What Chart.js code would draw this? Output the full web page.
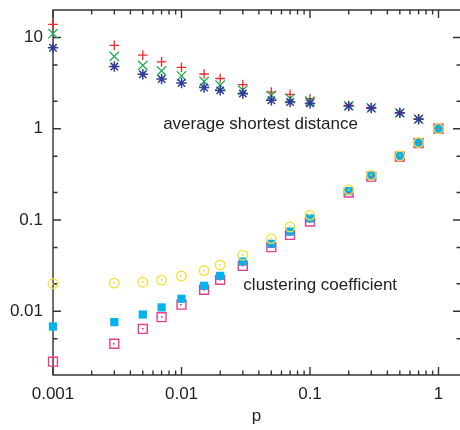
<!DOCTYPE html>
<html>
<head>
<meta charset="utf-8">
<script src="https://cdn.jsdelivr.net/npm/chart.js@4/dist/chart.umd.min.js"></script>
<style>
  html, body { margin: 0; padding: 0; background: #fff; }
  #wrap { width: 460px; height: 430px; position: relative; }
</style>
</head>
<body>
<div id="wrap"><canvas id="chart"></canvas></div>
<script>
// ---- data ----
const pValues = [0.001, 0.003, 0.005, 0.007, 0.01, 0.015, 0.02, 0.03, 0.05, 0.07, 0.1, 0.2, 0.3, 0.5, 0.7, 1];

// average shortest distance (upper group)
const distRed   = [13.9, 8.2, 6.4, 5.4, 4.7, 3.98, 3.55, 3.05, 2.52, 2.38, 2.13, 1.80, 1.71, 1.50, 1.28, 1];
const distGreen = [11.0, 6.2, 4.95, 4.3, 3.8, 3.3, 3.0, 2.64, 2.32, 2.14, 2.0, 1.78, 1.69, 1.49, 1.27, 1];
const distBlue  = [7.7, 4.8, 3.95, 3.5, 3.17, 2.83, 2.63, 2.43, 2.05, 1.96, 1.9, 1.77, 1.68, 1.49, 1.27, 1];

// clustering coefficient (lower group)
const clusYellow  = [0.0201, 0.0203, 0.0208, 0.0219, 0.0243, 0.0279, 0.0322, 0.0411, 0.0625, 0.0838, 0.113, 0.215, 0.31, 0.505, 0.705, 1];
const clusCyan    = [0.0068, 0.0076, 0.0092, 0.011, 0.0137, 0.019, 0.0244, 0.035, 0.0547, 0.0745, 0.104, 0.207, 0.303, 0.50, 0.70, 1];
const clusMagenta = [0.0028, 0.0044, 0.0064, 0.0086, 0.0118, 0.0172, 0.0221, 0.0314, 0.0503, 0.0686, 0.096, 0.20, 0.298, 0.495, 0.695, 1];

// ticks
const xMajor = [0.001, 0.01, 0.1, 1];
const xLabels = ['0.001', '0.01', '0.1', '1'];
const yMajor = [0.01, 0.1, 1, 10];
const yLabels = ['0.01', '0.1', '1', '10'];
const xMinorSteps = [2, 3, 4, 5, 6, 7, 8, 9];
const yMinorSteps = [2, 5];

// text labels placed in data coordinates [x, y(baseline), text]
const notes = [
    [0.0072, 1.0, 'average shortest distance'],
    [0.0303, 0.0172, 'clustering coefficient']
];

const FONT = '"Liberation Sans", Arial, Helvetica, sans-serif';
const INK = '#222';

function pts(ys) {
    return pValues.map((x, i) => ({ x, y: ys[i] }));
}

// scale padding for edge labels is not wanted here
function noPad(s) {
    s.paddingLeft = 0; s.paddingRight = 0; s.paddingTop = 0; s.paddingBottom = 0;
}

// ---- 枠と内向きの目盛り ----
const framePlugin = {
    id: 'frame',
    beforeDatasetsDraw(chart) {
        const { ctx, chartArea: a, scales: { x, y } } = chart;
        ctx.save();
        ctx.strokeStyle = '#333';
        ctx.lineWidth = 1.4;
        // right edge of the frame falls just outside the picture
        ctx.beginPath();
        ctx.moveTo(a.right + 1, a.top);
        ctx.lineTo(a.left, a.top);
        ctx.lineTo(a.left, a.bottom);
        ctx.lineTo(a.right + 1, a.bottom);
        ctx.stroke();

        const tick = (px, len, horiz) => {
            ctx.beginPath();
            if (horiz) {
                ctx.moveTo(px, a.bottom); ctx.lineTo(px, a.bottom - len);
                ctx.moveTo(px, a.top); ctx.lineTo(px, a.top + len);
            } else {
                ctx.moveTo(a.left, px); ctx.lineTo(a.left + len, px);
                ctx.moveTo(a.right + 1, px); ctx.lineTo(a.right + 1 - len, px);
            }
            ctx.stroke();
        };

        xMajor.forEach(v => {
            tick(x.getPixelForValue(v), 8, true);
            xMinorSteps.forEach(k => {
                const m = v * k;
                if (m < x.max) tick(x.getPixelForValue(m), 4.5, true);
            });
        });
        [0.001].concat(yMajor).forEach(v => {
            if (v > y.min) tick(y.getPixelForValue(v), 8, false);
            yMinorSteps.forEach(k => {
                const m = v * k;
                if (m > y.min && m < y.max) tick(y.getPixelForValue(m), 4.5, false);
            });
        });
        ctx.restore();
    },
    afterDatasetsDraw(chart) {
        const { ctx, scales: { x, y } } = chart;
        ctx.save();
        // small dot in the centre of some markers
        chart.data.datasets.forEach((ds, i) => {
            if (!ds.centerDot) return;
            ctx.fillStyle = ds.centerDot;
            chart.getDatasetMeta(i).data.forEach(el => {
                ctx.fillRect(Math.round(el.x) - 1, Math.round(el.y) - 1, 1.6, 1.6);
            });
        });
        // annotations
        ctx.fillStyle = INK;
        ctx.font = '17px ' + FONT;
        ctx.textBaseline = 'alphabetic';
        ctx.textAlign = 'left';
        notes.forEach(([nx, ny, t]) => {
            ctx.fillText(t, x.getPixelForValue(nx), y.getPixelForValue(ny));
        });
        ctx.restore();
    }
};

const datasets = [
    { data: pts(clusYellow), pointStyle: 'circle', pointRadius: 4.8, borderColor: '#f2e236', backgroundColor: 'rgba(0,0,0,0)', borderWidth: 1.3, centerDot: '#e8d830' },
    { data: pts(clusCyan), pointStyle: 'rect', pointRadius: 5.8, borderColor: '#04b2ec', backgroundColor: '#04b2ec', borderWidth: 0 },
    { data: pts(clusMagenta), pointStyle: 'rect', pointRadius: 6.3, borderColor: '#e63e8f', backgroundColor: 'rgba(0,0,0,0)', borderWidth: 1.4, centerDot: '#e63e8f' },
    { data: pts(distBlue), pointStyle: 'star', pointRadius: 5.2, borderColor: '#2f3c98', backgroundColor: '#2f3c98', borderWidth: 1.5 },
    { data: pts(distGreen), pointStyle: 'crossRot', pointRadius: 6.6, borderColor: '#1fae55', backgroundColor: '#1fae55', borderWidth: 1.3 },
    { data: pts(distRed), pointStyle: 'cross', pointRadius: 4.8, borderColor: '#ee2a2a', backgroundColor: '#ee2a2a', borderWidth: 1.3 }
].map(d => ({ ...d, showLine: false, clip: false, pointHoverRadius: d.pointRadius }));

new Chart(document.getElementById('chart'), {
    type: 'scatter',
    data: { datasets },
    options: {
        responsive: true,
        maintainAspectRatio: false,
        animation: false,
        layout: { autoPadding: false, padding: { top: 10, right: 0, bottom: 0, left: 0 } },
        plugins: { legend: { display: false }, tooltip: { enabled: false } },
        scales: {
            x: {
                type: 'logarithmic',
                min: 0.001,
                max: 1.47,
                grid: { display: false, drawTicks: false },
                border: { display: false },
                afterBuildTicks: s => { s.ticks = xMajor.map(v => ({ value: v })); },
                afterFit: s => { s.height = 55; noPad(s); },
                ticks: {
                    padding: 9,
                    maxRotation: 0,
                    autoSkip: false,
                    color: INK,
                    font: { family: FONT, size: 17 },
                    callback: (v, i) => xLabels[i]
                },
                title: {
                    display: true,
                    text: 'p',
                    color: INK,
                    font: { family: FONT, size: 17 },
                    padding: { top: 0, bottom: 3 }
                }
            },
            y: {
                type: 'logarithmic',
                min: 0.002,
                max: 20,
                grid: { display: false, drawTicks: false },
                border: { display: false },
                afterBuildTicks: s => { s.ticks = yMajor.map(v => ({ value: v })); },
                afterFit: s => { s.width = 53; noPad(s); },
                ticks: {
                    padding: 10,
                    autoSkip: false,
                    color: INK,
                    font: { family: FONT, size: 17 },
                    callback: (v, i) => yLabels[i]
                }
            }
        }
    },
    plugins: [framePlugin]
});
</script>
</body>
</html>
